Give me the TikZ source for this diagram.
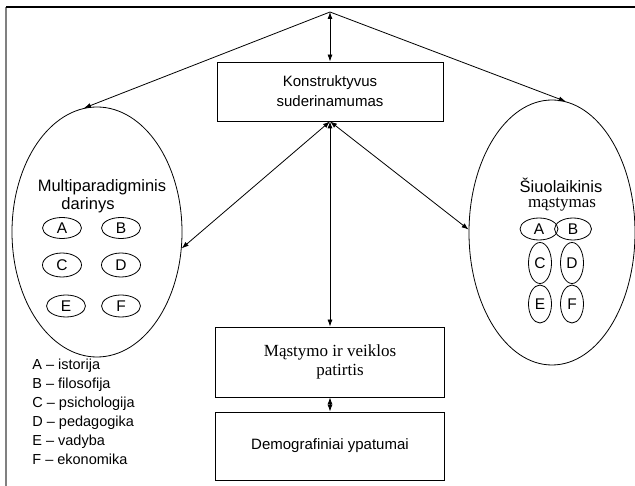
\documentclass[tikz,border=0pt]{standalone}
\usepackage{fontspec}
\setmainfont{Liberation Serif}
\setsansfont{Liberation Sans}
\usetikzlibrary{shapes.geometric,arrows.meta}
\tikzset{box/.style = {draw, rectangle, inner sep=0pt},
  oval/.style = {draw, ellipse, inner sep=0pt},
  lett/.style = {draw, ellipse, inner sep=0pt, font=\sffamily\fontsize{15.5}{15.5}\selectfont},
  sf/.style = {font=\sffamily\fontsize{#1}{20}\selectfont, inner sep=0pt},
  rm/.style = {font=\rmfamily\fontsize{#1}{19}\selectfont, inner sep=0pt}}

\begin{document}
\begin{tikzpicture}[x=1pt, y=-1pt, line width=0.8pt, >={Latex[length=7pt,width=5pt]}]
  \useasboundingbox (0,0) rectangle (635,486);
  \draw[gray, line width=2pt] (6,7) -- (6,486);
  \draw[line width=1.3pt] (6,7) -- (635,7);
  \coordinate (apex) at (330,12);
  \node[box, minimum width=226pt, minimum height=59pt, sf=15, align=center] (konstr) at (330,91.5)
    {Konstruktyvus\\suderinamumas};
  \node[oval, minimum width=170pt, minimum height=250pt] (multi) at (97,232) {};
  \node[oval, minimum width=166pt, minimum height=265pt] (siuol) at (552,232.5) {};
  \node[box, minimum width=229pt, minimum height=70pt, rm=17, align=center] (mastymo) at (330,362)
    {Mąstymo ir veiklos\\\hspace*{20pt}patirtis};
  \node[box, minimum width=229pt, minimum height=68pt, sf=15] (demo) at (330,446)
    {Demografiniai ypatumai};
  \node[sf=16.5] (mtitle) at (102,187) {Multiparadigminis};
  \node[sf=16.5] (mtitle2) at (88,205) {darinys};
  \node[lett, minimum width=39pt, minimum height=21pt] (mA) at (62,228) {A};
  \node[lett, minimum width=39pt, minimum height=21pt] (mB) at (121,228) {B};
  \node[lett, minimum width=39pt, minimum height=24pt] (mC) at (62,265) {C};
  \node[lett, minimum width=39pt, minimum height=24pt] (mD) at (121,265) {D};
  \node[lett, minimum width=39pt, minimum height=22pt] (mE) at (66,306) {E};
  \node[lett, minimum width=39pt, minimum height=22pt] (mF) at (121,306) {F};
  \node[sf=16.5] (stitle) at (561,185) {Šiuolaikinis};
  \node[rm=17] (stitle2) at (562,205) {mąstymas};
  \node[lett, minimum width=38pt, minimum height=22pt] (sA) at (539,229) {A};
  \node[lett, minimum width=37pt, minimum height=22pt] (sB) at (573,229) {B};
  \node[lett, minimum width=23pt, minimum height=41pt] (sC) at (540,263) {C};
  \node[lett, minimum width=23pt, minimum height=41pt] (sD) at (572,263) {D};
  \node[lett, minimum width=23pt, minimum height=38pt] (sE) at (540,304) {E};
  \node[lett, minimum width=23pt, minimum height=38pt] (sF) at (572,304) {F};
  \node[font=\sffamily\fontsize{14.5}{19}\selectfont, inner sep=0pt, align=left, anchor=north west] (legend)
    at (32,359) {A – istorija\\B – filosofija\\C – psichologija\\D – pedagogika\\E – vadyba\\F – ekonomika};
  \draw[<->] (apex) -- (konstr.north);
  \draw[->] (apex) -- (multi.96);
  \draw[->] (apex) -- (siuol.84);
  \draw[<->] (konstr.south) -- (multi.-11);
  \draw[<->] (konstr.south) -- (siuol.178);
  \draw[<->] (konstr.south) -- (mastymo.north);
  \draw[<->] (mastymo.south) -- (demo.north);
\end{tikzpicture}
\end{document}
